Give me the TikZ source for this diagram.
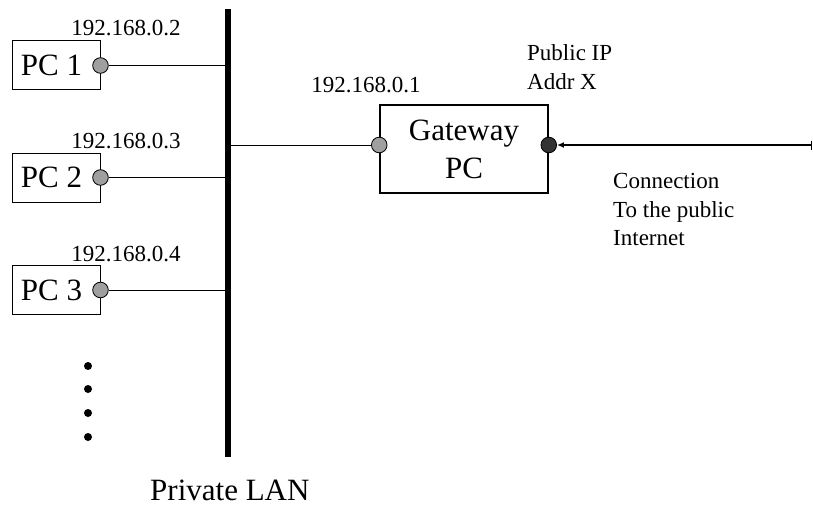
\documentclass[tikz,border=0pt]{standalone}
\usepackage{fontspec}
\setmainfont{Liberation Serif}
\usetikzlibrary{arrows.meta}
\begin{document}
\begin{tikzpicture}[x=1pt,y=-1pt,
  pcbox/.style={draw, line width=1pt, minimum width=88pt, minimum height=49pt, inner sep=0pt, font=\fontsize{31}{37}\selectfont},
  gwbox/.style={draw, line width=1.5pt, minimum width=168pt, minimum height=88pt, inner sep=0pt, align=center, font=\fontsize{31}{38}\selectfont},
  port/.style={circle, draw, line width=0.8pt, fill=gray!75, minimum size=15.6pt, inner sep=0pt},
  darkport/.style={port, fill=black!80},
  wire/.style={line width=1pt},
  lbl/.style={inner sep=0pt, font=\fontsize{23}{28}\selectfont},
  biglbl/.style={inner sep=0pt, font=\fontsize{31}{37}\selectfont},
  dotnode/.style={circle, fill=black, minimum size=8pt, inner sep=0pt},
  netarrow/.style={line width=1.5pt, {Bar[width=9pt,line width=1.5pt]}-{Latex[length=7pt,width=6pt]}}
]
\useasboundingbox (0,0) rectangle (813,508);

% bus
\coordinate (bustop) at (228,9);
\coordinate (busbot) at (228,457);
\draw[line width=6pt] (bustop) -- (busbot);

% PCs
\node[pcbox] (pc1) at (56,65.5) {PC 1\hspace*{9pt}};
\node[pcbox] (pc2) at (56,177.5) {PC 2\hspace*{9pt}};
\node[pcbox] (pc3) at (56,290) {PC 3\hspace*{9pt}};
\node[port] (p1) at (pc1.east) {};
\node[port] (p2) at (pc2.east) {};
\node[port] (p3) at (pc3.east) {};
\draw[wire] (p1.east) -- (p1.east -| bustop);
\draw[wire] (p2.east) -- (p2.east -| bustop);
\draw[wire] (p3.east) -- (p3.east -| bustop);

\node[lbl, anchor=base] (ip2) at (126,36) {192.168.0.2};
\node[lbl, anchor=base] (ip3) at (126,148) {192.168.0.3};
\node[lbl, anchor=base] (ip4) at (126,261) {192.168.0.4};

% dots
\node[dotnode] (d1) at (88,366) {};
\node[dotnode] (d2) at (88,389) {};
\node[dotnode] (d3) at (88,413) {};
\node[dotnode] (d4) at (88,437) {};

\node[biglbl, anchor=base west] (lan) at (150,500) {Private LAN};

% gateway
\node[gwbox] (gw) at (464,149) {Gateway\\PC};
\node[port] (gwin) at (gw.west |- 0,145) {};
\node[darkport] (gwout) at (gw.east |- 0,145) {};
\draw[wire] (gwin.west -| bustop) -- (gwin.west);
\node[lbl, anchor=base] (ip1) at (366,93) {192.168.0.1};

\node[lbl, anchor=base west] (pub1) at (527,61) {Public IP};
\node[lbl, anchor=base west] (pub2) at (527,90) {Addr X};

\coordinate (inet) at (812,145);
\draw[netarrow] (inet) -- (gwout.east);

\node[lbl, anchor=base west] (c1) at (613,188) {Connection};
\node[lbl, anchor=base west] (c2) at (613,217) {To the public};
\node[lbl, anchor=base west] (c3) at (613,245) {Internet};
\end{tikzpicture}
\end{document}
